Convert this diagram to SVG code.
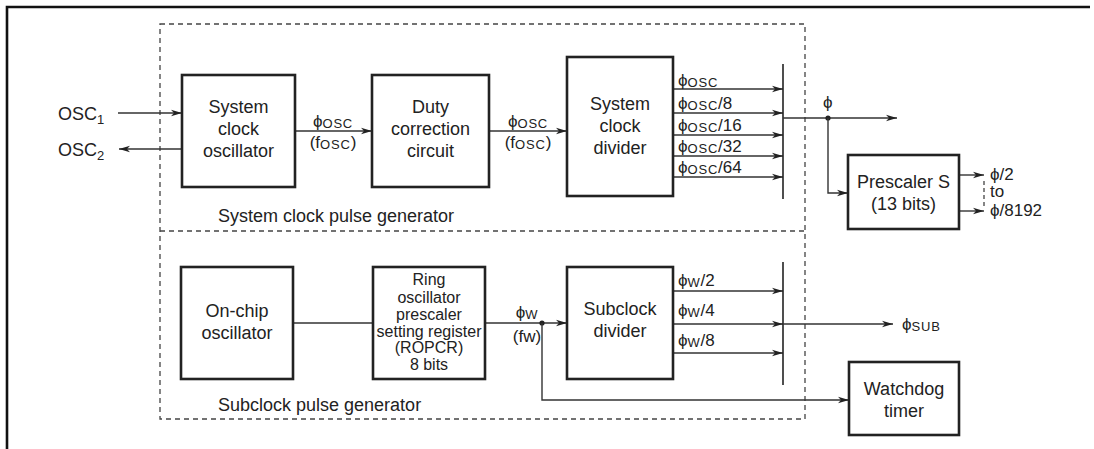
<svg xmlns="http://www.w3.org/2000/svg" width="1094" height="449" viewBox="0 0 1094 449">
<defs>
<marker id="ah" markerUnits="userSpaceOnUse" markerWidth="12" markerHeight="8" refX="11" refY="4" orient="auto">
<path d="M0,0.8 L11,4 L0,7.2 L3,4 z" fill="#222"/>
</marker>
<style>
.box{fill:#fff;stroke:#222;stroke-width:2.6}
.ln{fill:none;stroke:#333;stroke-width:1.4}
.ar{fill:none;stroke:#333;stroke-width:1.4;marker-end:url(#ah)}
.bus{fill:none;stroke:#222;stroke-width:1.6}
.dash{fill:none;stroke:#444;stroke-width:1.3;stroke-dasharray:5,4}
text{font-family:"Liberation Sans",Arial,sans-serif;fill:#222}
.t{font-size:18px}
.tc{font-size:18px;text-anchor:middle}
.ts{font-size:16px;text-anchor:middle}
.lb{font-size:17px}
.lbc{font-size:17px;text-anchor:middle}
.sub{font-size:13px;letter-spacing:0.8px}
.num{font-size:13px}
</style>
</defs>
<rect width="1094" height="449" fill="#fff"/>
<path d="M7,449 L7,7 L1090,7" fill="none" stroke="#111" stroke-width="2.6"/>
<g id="groups">
<rect class="dash" x="160" y="24" width="645" height="395"/>
<line class="dash" x1="160" y1="231" x2="805" y2="231"/>
<text class="t" x="218" y="222">System clock pulse generator</text>
<text class="t" x="218" y="411">Subclock pulse generator</text>
</g>
<g id="connectors">
<line class="ar" x1="118" y1="113" x2="182" y2="113"/>
<line class="ar" x1="182" y1="149" x2="119" y2="149"/>
<line class="ar" x1="295" y1="131" x2="372" y2="131"/>
<line class="ar" x1="489" y1="131" x2="567" y2="131"/>
<line class="ar" x1="673" y1="89" x2="783" y2="89"/>
<line class="ar" x1="673" y1="113" x2="783" y2="113"/>
<line class="ar" x1="673" y1="135" x2="783" y2="135"/>
<line class="ar" x1="673" y1="156" x2="783" y2="156"/>
<line class="ar" x1="673" y1="177" x2="783" y2="177"/>
<line class="bus" x1="783" y1="64" x2="783" y2="199"/>
<line class="ar" x1="783" y1="118" x2="897" y2="118"/>
<circle cx="828" cy="118" r="2.6" fill="#222"/>
<polyline class="ar" points="828,118 828,193 848,193"/>
<line class="ar" x1="959" y1="175" x2="984" y2="175"/>
<line class="ar" x1="959" y1="211" x2="984" y2="211"/>
<line class="dash" x1="984" y1="181" x2="984" y2="207" style="stroke-dasharray:4,3"/>
<line class="ln" x1="293" y1="323" x2="373" y2="323"/>
<line class="ar" x1="485" y1="323" x2="567" y2="323"/>
<circle cx="542" cy="323" r="2.6" fill="#222"/>
<polyline class="ar" points="542,323 542,400 849,400"/>
<line class="ar" x1="673" y1="291" x2="783" y2="291"/>
<line class="ar" x1="673" y1="324" x2="783" y2="324"/>
<line class="ar" x1="673" y1="353" x2="783" y2="353"/>
<line class="bus" x1="783" y1="262" x2="783" y2="385"/>
<line class="ar" x1="783" y1="324" x2="893" y2="324"/>
</g>
<g id="labels">
<text class="t" x="58" y="120">OSC<tspan class="num" dy="4">1</tspan></text>
<text class="t" x="58" y="156">OSC<tspan class="num" dy="4">2</tspan></text>
<text class="lbc" x="333" y="127">ϕ<tspan class="sub" dy="1">OSC</tspan></text>
<text class="lbc" x="333" y="148">(f<tspan class="sub" dy="1">OSC</tspan><tspan dy="-1">)</tspan></text>
<text class="lbc" x="528" y="127">ϕ<tspan class="sub" dy="1">OSC</tspan></text>
<text class="lbc" x="528" y="148">(f<tspan class="sub" dy="1">OSC</tspan><tspan dy="-1">)</tspan></text>
<text class="lb" x="678" y="86">ϕ<tspan class="sub" dy="1">OSC</tspan></text>
<text class="lb" x="678" y="109">ϕ<tspan class="sub" dy="1">OSC</tspan><tspan dy="-1">/8</tspan></text>
<text class="lb" x="678" y="131">ϕ<tspan class="sub" dy="1">OSC</tspan><tspan dy="-1">/16</tspan></text>
<text class="lb" x="678" y="152">ϕ<tspan class="sub" dy="1">OSC</tspan><tspan dy="-1">/32</tspan></text>
<text class="lb" x="678" y="173">ϕ<tspan class="sub" dy="1">OSC</tspan><tspan dy="-1">/64</tspan></text>
<text class="lb" x="823" y="108">ϕ</text>
<text class="lb" x="990" y="180">ϕ/2</text>
<text class="lb" x="990" y="197">to</text>
<text class="lb" x="990" y="216">ϕ/8192</text>
<text class="lbc" x="527" y="318">ϕ<tspan class="sub" dy="1">W</tspan></text>
<text class="lbc" x="527" y="342">(fw)</text>
<text class="lb" x="678" y="286">ϕ<tspan class="sub" dy="1">W</tspan><tspan dy="-1">/2</tspan></text>
<text class="lb" x="678" y="316">ϕ<tspan class="sub" dy="1">W</tspan><tspan dy="-1">/4</tspan></text>
<text class="lb" x="678" y="346">ϕ<tspan class="sub" dy="1">W</tspan><tspan dy="-1">/8</tspan></text>
<text class="lb" x="902" y="330">ϕ<tspan class="sub" dy="1">SUB</tspan></text>
</g>
<g id="sysosc">
<rect class="box" x="182" y="75" width="113" height="112"/>
<text class="tc" x="238.5" y="113">System</text>
<text class="tc" x="238.5" y="135">clock</text>
<text class="tc" x="238.5" y="157">oscillator</text>
</g>
<g id="duty">
<rect class="box" x="372" y="75" width="117" height="112"/>
<text class="tc" x="430.5" y="113">Duty</text>
<text class="tc" x="430.5" y="135">correction</text>
<text class="tc" x="430.5" y="157">circuit</text>
</g>
<g id="sysdiv">
<rect class="box" x="567" y="57" width="106" height="139"/>
<text class="tc" x="620" y="110">System</text>
<text class="tc" x="620" y="132">clock</text>
<text class="tc" x="620" y="154">divider</text>
</g>
<g id="prescaler">
<rect class="box" x="848" y="155" width="111" height="74"/>
<text class="tc" x="903.5" y="188">Prescaler S</text>
<text class="tc" x="903.5" y="210">(13 bits)</text>
</g>
<g id="onchip">
<rect class="box" x="181" y="267" width="112" height="112"/>
<text class="tc" x="237" y="317">On-chip</text>
<text class="tc" x="237" y="339">oscillator</text>
</g>
<g id="ring">
<rect class="box" x="373" y="267" width="112" height="112"/>
<text class="ts" x="429" y="285">Ring</text>
<text class="ts" x="429" y="303">oscillator</text>
<text class="ts" x="429" y="320">prescaler</text>
<text class="ts" x="429" y="337">setting register</text>
<text class="ts" x="429" y="353">(ROPCR)</text>
<text class="ts" x="429" y="370">8 bits</text>
</g>
<g id="subdiv">
<rect class="box" x="567" y="267" width="106" height="112"/>
<text class="tc" x="620" y="315">Subclock</text>
<text class="tc" x="620" y="337">divider</text>
</g>
<g id="watchdog">
<rect class="box" x="849" y="362" width="110" height="73"/>
<text class="tc" x="904" y="395">Watchdog</text>
<text class="tc" x="904" y="417">timer</text>
</g>
</svg>
